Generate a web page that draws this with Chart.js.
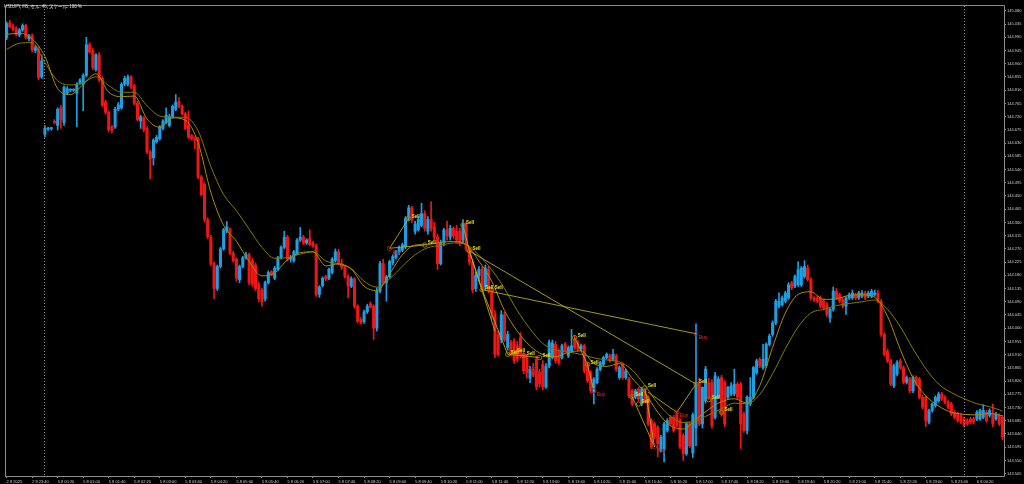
<!DOCTYPE html>
<html>
<head>
<meta charset="utf-8">
<script src="https://cdn.jsdelivr.net/npm/chart.js@4.4.1/dist/chart.umd.min.js"></script>
<style>
  html, body { margin: 0; padding: 0; background: #000; }
  #wrap { width: 1024px; height: 484px; }
</style>
</head>
<body>
<div id="wrap"><canvas id="usdjpyChart" width="1024" height="484"></canvas></div>
<script>
const opens = [
  144.989, 145.039, 145.028, 145.020, 144.998, 145.015, 145.030, 144.985, 144.995, 144.945,
  144.950, 144.855, 144.660, 144.678, 144.679, 144.704, 144.690, 144.750, 144.700, 144.800,
  144.810, 144.810, 144.800, 144.835, 144.830, 144.860, 144.965, 144.945, 144.880, 144.930,
  144.850, 144.770, 144.735, 144.685, 144.685, 144.745, 144.750, 144.830, 144.830, 144.855,
  144.825, 144.765, 144.705, 144.715, 144.680, 144.600, 144.580, 144.635, 144.645, 144.680,
  144.700, 144.690, 144.720, 144.745, 144.770, 144.755, 144.730, 144.690, 144.655, 144.645,
  144.645, 144.515, 144.490, 144.370, 144.310, 144.220, 144.135, 144.210, 144.270, 144.330,
  144.335, 144.255, 144.235, 144.165, 144.210, 144.240, 144.250, 144.230, 144.215, 144.150,
  144.130, 144.100, 144.155, 144.192, 144.170, 144.200, 144.240, 144.275, 144.310, 144.235,
  144.230, 144.255, 144.300, 144.310, 144.290, 144.305, 144.290, 144.280, 144.115, 144.145,
  144.175, 144.170, 144.190, 144.230, 144.260, 144.220, 144.207, 144.176, 144.143, 144.168,
  144.075, 144.030, 144.022, 144.056, 144.083, 144.075, 144.000, 144.126, 144.220, 144.155,
  144.175, 144.222, 144.240, 144.260, 144.265, 144.278, 144.374, 144.410, 144.330, 144.335,
  144.350, 144.390, 144.330, 144.370, 144.345, 144.310, 144.220, 144.290, 144.335, 144.310,
  144.340, 144.330, 144.330, 144.300, 144.355, 144.270, 144.225, 144.135, 144.180, 144.200,
  144.140, 144.200, 144.130, 144.050, 143.979, 143.962, 144.046, 143.934, 143.951, 143.956,
  143.940, 143.968, 143.911, 143.900, 143.830, 143.860, 143.894, 143.850, 143.877, 143.800,
  143.872, 143.900, 143.945, 143.922, 143.900, 143.945, 143.906, 143.923, 143.962, 143.950,
  143.930, 143.940, 143.877, 143.850, 143.782, 143.815, 143.860, 143.877, 143.900, 143.906,
  143.894, 143.906, 143.832, 143.877, 143.832, 143.827, 143.787, 143.765, 143.793, 143.742,
  143.787, 143.765, 143.686, 143.675, 143.663, 143.584, 143.590, 143.652, 143.697, 143.697,
  143.708, 143.686, 143.635, 143.573, 143.675, 143.575, 143.660, 143.815, 143.674, 143.753,
  143.815, 143.815, 143.697, 143.765, 143.832, 143.815, 143.765, 143.776, 143.776, 143.810,
  143.810, 143.708, 143.652, 143.742, 143.765, 143.849, 143.894, 143.866, 143.872, 143.945,
  143.979, 144.018, 144.075, 144.080, 144.092, 144.103, 144.154, 144.143, 144.148, 144.148,
  144.176, 144.205, 144.165, 144.103, 144.103, 144.103, 144.092, 144.080, 144.035, 144.064,
  144.126, 144.114, 144.097, 144.075, 144.103, 144.103, 144.114, 144.103, 144.109, 144.120,
  144.109, 144.109, 144.114, 144.120, 144.092, 143.979, 143.922, 143.889, 143.804, 143.844,
  143.889, 143.866, 143.816, 143.827, 143.787, 143.832, 143.827, 143.765, 143.765, 143.680,
  143.720, 143.737, 143.753, 143.776, 143.765, 143.748, 143.742, 143.714, 143.708, 143.703,
  143.691, 143.686, 143.691, 143.691, 143.691, 143.691, 143.697, 143.714, 143.703, 143.708,
  143.691, 143.703, 143.697
];
const highs = [
  145.042, 145.048, 145.034, 145.026, 145.020, 145.036, 145.035, 145.000, 145.002, 144.962,
  144.958, 144.930, 144.690, 144.684, 144.684, 144.710, 144.750, 144.758, 144.825, 144.822,
  144.815, 144.815, 144.836, 144.850, 144.866, 144.990, 144.972, 144.952, 144.935, 144.938,
  144.856, 144.776, 144.740, 144.690, 144.752, 144.768, 144.836, 144.858, 144.862, 144.860,
  144.830, 144.772, 144.725, 144.720, 144.686, 144.606, 144.645, 144.656, 144.690, 144.710,
  144.750, 144.728, 144.760, 144.795, 144.785, 144.760, 144.736, 144.740, 144.660, 144.652,
  144.650, 144.520, 144.495, 144.376, 144.316, 144.226, 144.215, 144.275, 144.340, 144.363,
  144.342, 144.262, 144.240, 144.215, 144.245, 144.258, 144.256, 144.238, 144.222, 144.156,
  144.136, 144.160, 144.195, 144.196, 144.210, 144.245, 144.280, 144.330, 144.316, 144.248,
  144.265, 144.305, 144.343, 144.316, 144.305, 144.335, 144.296, 144.286, 144.145, 144.175,
  144.180, 144.205, 144.240, 144.270, 144.268, 144.235, 144.212, 144.182, 144.175, 144.172,
  144.080, 144.036, 144.062, 144.082, 144.090, 144.080, 144.137, 144.228, 144.235, 144.180,
  144.232, 144.250, 144.265, 144.280, 144.290, 144.380, 144.418, 144.415, 144.365, 144.380,
  144.425, 144.400, 144.380, 144.430, 144.360, 144.320, 144.300, 144.340, 144.365, 144.350,
  144.345, 144.350, 144.340, 144.370, 144.360, 144.275, 144.232, 144.190, 144.210, 144.210,
  144.215, 144.210, 144.135, 144.060, 143.990, 144.060, 144.055, 143.990, 143.960, 143.965,
  143.955, 143.985, 143.920, 143.910, 143.870, 143.880, 143.905, 143.860, 143.890, 143.880,
  143.960, 143.960, 143.955, 143.930, 143.946, 143.952, 143.940, 143.996, 143.975, 143.958,
  143.946, 143.946, 143.884, 143.856, 143.832, 143.866, 143.888, 143.905, 143.916, 143.912,
  143.928, 143.912, 143.872, 143.883, 143.860, 143.833, 143.793, 143.793, 143.799, 143.799,
  143.793, 143.771, 143.692, 143.681, 143.669, 143.635, 143.680, 143.692, 143.703, 143.703,
  143.714, 143.692, 143.641, 143.681, 143.681, 143.712, 144.015, 143.830, 143.800, 143.870,
  143.830, 143.825, 143.850, 143.835, 143.840, 143.822, 143.802, 143.815, 143.861, 143.815,
  143.816, 143.715, 143.770, 143.832, 143.870, 143.895, 143.900, 143.945, 143.950, 143.980,
  144.025, 144.098, 144.120, 144.110, 144.126, 144.155, 144.160, 144.182, 144.227, 144.210,
  144.230, 144.215, 144.172, 144.108, 144.110, 144.110, 144.100, 144.088, 144.068, 144.140,
  144.135, 144.120, 144.104, 144.108, 144.120, 144.130, 144.120, 144.126, 144.128, 144.126,
  144.126, 144.132, 144.130, 144.128, 144.098, 143.985, 143.930, 143.895, 143.878, 143.890,
  143.895, 143.872, 143.838, 143.833, 143.838, 143.838, 143.833, 143.771, 143.771, 143.725,
  143.746, 143.770, 143.782, 143.782, 143.771, 143.754, 143.748, 143.720, 143.714, 143.709,
  143.697, 143.692, 143.697, 143.697, 143.720, 143.725, 143.740, 143.720, 143.726, 143.742,
  143.714, 143.709, 143.703
];
const lows = [
  144.982, 145.022, 145.012, 144.995, 144.992, 145.010, 144.984, 144.978, 144.940, 144.938,
  144.845, 144.850, 144.650, 144.672, 144.674, 144.696, 144.675, 144.680, 144.690, 144.795,
  144.805, 144.806, 144.685, 144.830, 144.740, 144.855, 144.935, 144.880, 144.875, 144.838,
  144.754, 144.728, 144.668, 144.665, 144.680, 144.740, 144.745, 144.825, 144.825, 144.815,
  144.760, 144.705, 144.680, 144.668, 144.594, 144.508, 144.555, 144.630, 144.640, 144.675,
  144.695, 144.685, 144.715, 144.740, 144.750, 144.725, 144.675, 144.645, 144.640, 144.610,
  144.508, 144.450, 144.362, 144.305, 144.212, 144.100, 144.128, 144.205, 144.265, 144.325,
  144.250, 144.225, 144.160, 144.155, 144.205, 144.235, 144.148, 144.142, 144.128, 144.090,
  144.075, 144.092, 144.150, 144.178, 144.165, 144.195, 144.235, 144.270, 144.228, 144.225,
  144.225, 144.250, 144.295, 144.285, 144.285, 144.280, 144.275, 144.108, 144.105, 144.140,
  144.162, 144.165, 144.185, 144.225, 144.215, 144.200, 144.170, 144.103, 144.138, 144.068,
  144.018, 144.014, 144.016, 144.050, 144.068, 143.962, 143.990, 144.120, 144.150, 144.092,
  144.170, 144.215, 144.235, 144.250, 144.260, 144.270, 144.365, 144.360, 144.320, 144.330,
  144.345, 144.330, 144.320, 144.330, 144.300, 144.200, 144.215, 144.280, 144.300, 144.300,
  144.305, 144.290, 144.280, 144.290, 144.262, 144.215, 144.120, 144.125, 144.160, 144.130,
  144.130, 144.120, 144.030, 143.900, 143.905, 143.950, 143.955, 143.925, 143.905, 143.880,
  143.885, 143.900, 143.845, 143.830, 143.815, 143.835, 143.790, 143.800, 143.790, 143.795,
  143.865, 143.895, 143.880, 143.875, 143.895, 143.918, 143.900, 143.918, 143.928, 143.922,
  143.925, 143.848, 143.815, 143.780, 143.742, 143.810, 143.855, 143.872, 143.895, 143.884,
  143.889, 143.853, 143.826, 143.826, 143.826, 143.764, 143.736, 143.760, 143.753, 143.736,
  143.747, 143.668, 143.590, 143.624, 143.562, 143.578, 143.545, 143.646, 143.669, 143.646,
  143.663, 143.590, 143.550, 143.567, 143.594, 143.560, 143.600, 143.668, 143.660, 143.745,
  143.757, 143.660, 143.690, 143.760, 143.700, 143.665, 143.758, 143.770, 143.770, 143.757,
  143.590, 143.645, 143.640, 143.736, 143.760, 143.843, 143.866, 143.860, 143.866, 143.940,
  143.972, 144.012, 144.068, 144.075, 144.086, 144.098, 144.131, 144.138, 144.142, 144.142,
  144.170, 144.160, 144.095, 144.090, 144.086, 144.068, 144.062, 144.040, 144.020, 144.058,
  144.097, 144.086, 144.069, 144.047, 144.098, 144.098, 144.097, 144.098, 144.104, 144.097,
  144.104, 144.104, 144.109, 144.086, 143.972, 143.905, 143.883, 143.804, 143.798, 143.838,
  143.860, 143.810, 143.810, 143.781, 143.781, 143.804, 143.759, 143.725, 143.665, 143.674,
  143.714, 143.731, 143.748, 143.753, 143.742, 143.725, 143.702, 143.691, 143.680, 143.674,
  143.663, 143.669, 143.674, 143.674, 143.685, 143.686, 143.692, 143.680, 143.697, 143.665,
  143.686, 143.669, 143.620
];
const closes = [
  145.037, 145.026, 145.018, 145.000, 145.015, 145.030, 144.990, 144.995, 144.948, 144.955,
  144.853, 144.910, 144.680, 144.679, 144.680, 144.700, 144.745, 144.710, 144.820, 144.815,
  144.812, 144.812, 144.830, 144.845, 144.860, 144.965, 144.940, 144.887, 144.930, 144.845,
  144.760, 144.735, 144.675, 144.675, 144.745, 144.760, 144.830, 144.850, 144.855, 144.820,
  144.765, 144.710, 144.720, 144.675, 144.600, 144.575, 144.640, 144.650, 144.685, 144.705,
  144.725, 144.720, 144.755, 144.770, 144.755, 144.730, 144.680, 144.650, 144.645, 144.640,
  144.515, 144.455, 144.370, 144.312, 144.220, 144.135, 144.210, 144.270, 144.335, 144.345,
  144.255, 144.230, 144.170, 144.210, 144.240, 144.250, 144.155, 144.150, 144.135, 144.100,
  144.090, 144.155, 144.190, 144.182, 144.205, 144.240, 144.275, 144.310, 144.235, 144.242,
  144.260, 144.300, 144.310, 144.290, 144.300, 144.285, 144.280, 144.115, 144.140, 144.170,
  144.168, 144.200, 144.235, 144.260, 144.220, 144.207, 144.176, 144.143, 144.168, 144.075,
  144.024, 144.020, 144.056, 144.075, 144.072, 144.000, 144.126, 144.220, 144.155, 144.175,
  144.227, 144.244, 144.261, 144.272, 144.284, 144.374, 144.410, 144.370, 144.355, 144.370,
  144.390, 144.340, 144.370, 144.340, 144.310, 144.220, 144.290, 144.335, 144.315, 144.340,
  144.315, 144.300, 144.290, 144.357, 144.270, 144.225, 144.130, 144.180, 144.200, 144.140,
  144.205, 144.130, 144.050, 143.911, 143.911, 144.046, 143.960, 143.979, 143.911, 143.889,
  143.894, 143.911, 143.855, 143.849, 143.860, 143.840, 143.800, 143.810, 143.800, 143.870,
  143.951, 143.950, 143.889, 143.883, 143.940, 143.923, 143.934, 143.940, 143.934, 143.928,
  143.940, 143.855, 143.821, 143.787, 143.827, 143.860, 143.883, 143.900, 143.911, 143.890,
  143.911, 143.860, 143.866, 143.832, 143.855, 143.770, 143.742, 143.787, 143.759, 143.793,
  143.753, 143.675, 143.596, 143.630, 143.607, 143.629, 143.674, 143.686, 143.675, 143.652,
  143.669, 143.596, 143.573, 143.675, 143.600, 143.705, 143.805, 143.674, 143.799, 143.861,
  143.765, 143.669, 143.838, 143.827, 143.708, 143.674, 143.799, 143.804, 143.810, 143.765,
  143.674, 143.652, 143.765, 143.765, 143.866, 143.889, 143.872, 143.894, 143.945, 143.973,
  144.018, 144.092, 144.092, 144.103, 144.120, 144.148, 144.137, 144.176, 144.199, 144.205,
  144.210, 144.165, 144.103, 144.097, 144.092, 144.075, 144.069, 144.047, 144.064, 144.126,
  144.103, 144.092, 144.075, 144.103, 144.114, 144.120, 144.103, 144.120, 144.120, 144.103,
  144.120, 144.126, 144.120, 144.092, 143.979, 143.911, 143.889, 143.810, 143.872, 143.883,
  143.866, 143.816, 143.832, 143.787, 143.832, 143.810, 143.765, 143.731, 143.686, 143.720,
  143.742, 143.765, 143.776, 143.759, 143.748, 143.731, 143.708, 143.697, 143.686, 143.680,
  143.669, 143.675, 143.680, 143.680, 143.714, 143.720, 143.720, 143.686, 143.720, 143.674,
  143.708, 143.674, 143.629
];

// moyennes mobiles relevées tous les 4 bougies
const maIdx = [
  0, 4, 8, 12, 16, 20, 24, 28, 32, 36, 40, 44, 48, 52, 56, 60, 64, 68, 72, 76,
  80, 84, 88, 92, 96, 100, 104, 108, 112, 116, 120, 124, 128, 132, 136, 140, 144, 148, 152, 156,
  160, 164, 168, 172, 176, 180, 184, 188, 192, 196, 200, 204, 208, 212, 216, 220, 224, 228, 232, 236,
  240, 244, 248, 252, 256, 260, 264, 268, 272, 276, 280, 284, 288, 292, 296, 300, 304, 308, 312
];
const maFast = [
  145.000, 145.004, 144.985, 144.925, 144.815, 144.795, 144.830, 144.866, 144.803, 144.788,
  144.790, 144.712, 144.684, 144.716, 144.708, 144.632, 144.462, 144.350, 144.296, 144.227,
  144.178, 144.188, 144.233, 144.257, 144.260, 144.212, 144.219, 144.201, 144.143, 144.128,
  144.185, 144.250, 144.283, 144.285, 144.292, 144.295, 144.285, 144.228, 144.160, 144.060,
  143.990, 143.940, 143.910, 143.903, 143.918, 143.923, 143.880, 143.870, 143.880, 143.830,
  143.780, 143.714, 143.668, 143.657, 143.690, 143.724, 143.750, 143.760, 143.745, 143.805,
  143.935, 144.052, 144.115, 144.124, 144.098, 144.100, 144.112, 144.114, 144.105, 144.040,
  143.928, 143.830, 143.770, 143.735, 143.714, 143.707, 143.705, 143.710, 143.702
];
const maSlow = [
  144.949, 144.970, 144.972, 144.904, 144.842, 144.828, 144.836, 144.856, 144.826, 144.803,
  144.803, 144.757, 144.722, 144.718, 144.718, 144.672, 144.550, 144.455, 144.400, 144.337,
  144.275, 144.238, 144.240, 144.252, 144.260, 144.229, 144.218, 144.203, 144.160, 144.140,
  144.168, 144.211, 144.250, 144.274, 144.282, 144.290, 144.285, 144.248, 144.199, 144.135,
  144.060, 143.998, 143.948, 143.926, 143.919, 143.911, 143.899, 143.892, 143.885, 143.858,
  143.805, 143.745, 143.700, 143.679, 143.685, 143.705, 143.726, 143.745, 143.743, 143.775,
  143.845, 143.930, 144.004, 144.052, 144.064, 144.077, 144.084, 144.090, 144.096, 144.064,
  144.005, 143.930, 143.862, 143.810, 143.781, 143.760, 143.743, 143.733, 143.718
];

// lignes des ordres (entrée -> sortie)
const tradeFromIdx = [120, 120, 143, 145, 145, 149, 145, 149, 157, 162, 178, 182, 196, 200, 201, 210];
const tradeFromPx = [144.272, 144.272, 144.351, 144.263, 144.263, 144.131, 144.263, 144.131, 143.911, 143.906, 143.968, 143.877, 143.767, 143.797, 143.782, 143.714];
const tradeToIdx = [126, 131, 145, 149, 153, 216, 216, 157, 162, 167, 182, 184, 203, 203, 210, 216];
const tradeToPx = [144.374, 144.283, 144.263, 144.131, 143.990, 143.981, 143.810, 143.911, 143.906, 143.900, 143.877, 143.787, 143.596, 143.596, 143.714, 143.810];

// marqueurs Buy / Sell
const markIdx = [120, 126, 131, 143, 145, 149, 152, 157, 159, 162, 165, 167, 178, 182, 184, 196, 198, 200, 203, 210, 216, 216, 220, 224];
const markPx = [144.272, 144.374, 144.283, 144.351, 144.263, 144.131, 144.131, 143.911, 143.917, 143.906, 143.860, 143.900, 143.968, 143.877, 143.787, 143.767, 143.742, 143.797, 143.596, 143.714, 143.981, 143.810, 143.757, 143.714];
const markText = ['Buy', 'Sell', 'Sell', 'Sell', 'Sell', 'Sell', 'Sell', 'Sell', 'Sell', 'Sell', 'Buy', 'Sell', 'Sell', 'Sell', 'Buy', 'Sell', 'Sell', 'Sell', 'Buy', 'Buy', 'Buy', 'Sell', 'Sell', 'Sell'];

// axe du temps
const xTickIdx = [0, 8, 16, 24, 32, 40, 48, 56, 64, 72, 80, 88, 96, 104, 112, 120, 128, 136, 144, 152,
  160, 168, 176, 184, 192, 200, 208, 216, 224, 232, 240, 248, 256, 264, 272, 280, 288, 296, 304];
const xTickText = ['2 8 2025', '2 8 23:40', '5 8 00:20', '5 8 01:00', '5 8 01:40', '5 8 02:20', '5 8 03:00',
  '5 8 03:40', '5 8 04:20', '5 8 05:00', '5 8 05:40', '5 8 06:20', '5 8 07:00', '5 8 07:40', '5 8 08:20',
  '5 8 09:00', '5 8 09:40', '5 8 10:20', '5 8 11:00', '5 8 11:40', '5 8 12:20', '5 8 13:00', '5 8 13:40',
  '5 8 14:20', '5 8 15:00', '5 8 15:40', '5 8 16:20', '5 8 17:00', '5 8 17:40', '5 8 18:20', '5 8 19:00',
  '5 8 19:40', '5 8 20:20', '5 8 21:00', '5 8 21:40', '5 8 22:20', '5 8 23:00', '5 8 23:40', '6 8 00:20'];
const separatorIdx = [12, 300];

// axe des prix
const yTicks = [143.505, 143.550, 143.595, 143.640, 143.685, 143.730, 143.775, 143.820, 143.865, 143.910,
  143.955, 144.000, 144.045, 144.090, 144.135, 144.180, 144.225, 144.270, 144.315, 144.360, 144.405,
  144.450, 144.495, 144.540, 144.585, 144.630, 144.675, 144.720, 144.765, 144.810, 144.855, 144.900,
  144.945, 144.990, 145.035, 145.080];

const titleText = 'USDJPY, M5, セル: 45, スケール: 100 %';

const upColor = '#1e9fe4';
const downColor = '#f01616';
const axisColor = '#8c8c8c';
const textColor = '#cfcfcf';

const candleColors = closes.map((c, i) => (c >= opens[i] ? upColor : downColor));

const mt4Plugin = {
  id: 'mt4Frame',
  beforeDraw(chart) {
    const ctx = chart.ctx;
    ctx.save();
    ctx.fillStyle = '#000';
    ctx.fillRect(0, 0, chart.width, chart.height);
    ctx.restore();
  },
  afterDraw(chart) {
    const ctx = chart.ctx;
    const a = chart.chartArea;
    const xs = chart.scales.x;
    const ys = chart.scales.y;
    ctx.save();
    // cadre
    ctx.strokeStyle = axisColor;
    ctx.lineWidth = 1;
    ctx.beginPath();
    ctx.moveTo(a.left + 0.5, a.bottom + 0.5);
    ctx.lineTo(a.left + 0.5, a.top + 0.5);
    ctx.lineTo(a.right + 0.5, a.top + 0.5);
    ctx.lineTo(a.right + 0.5, a.bottom + 0.5);
    ctx.lineTo(a.left + 0.5, a.bottom + 0.5);
    ctx.stroke();
    // séparateurs de jours
    ctx.setLineDash([1, 2]);
    separatorIdx.forEach((idx) => {
      const px = Math.floor(xs.getPixelForValue(idx)) + 0.5;
      ctx.beginPath();
      ctx.moveTo(px, a.top + 1);
      ctx.lineTo(px, a.bottom);
      ctx.stroke();
    });
    ctx.setLineDash([]);
    // textes Buy / Sell
    ctx.font = 'bold 4.5px "Liberation Sans"';
    ctx.textBaseline = 'middle';
    ctx.textAlign = 'left';
    markIdx.forEach((idx, k) => {
      const px = xs.getPixelForValue(idx);
      const py = ys.getPixelForValue(markPx[k]);
      if (markText[k] === 'Sell') {
        ctx.fillStyle = '#e4e41c';
        ctx.fillText('Sell', px + 3, py - 2);
      } else {
        ctx.fillStyle = '#c42020';
        ctx.fillText('Buy', px + 3, py + 4);
      }
    });
    // titre
    ctx.font = '4.5px "Noto Sans CJK JP", "Liberation Sans"';
    ctx.fillStyle = '#e6e6e6';
    ctx.textBaseline = 'middle';
    ctx.fillText(titleText, 4, 6);
    ctx.restore();
  }
};

const ctx = document.getElementById('usdjpyChart').getContext('2d');
new Chart(ctx, {
  type: 'bar',
  data: {
    datasets: [
      {
        type: 'line',
        label: 'marks',
        data: markIdx.map((x, k) => ({ x: x, y: markPx[k] })),
        showLine: false,
        pointRadius: 2.2,
        pointStyle: 'circle',
        pointBackgroundColor: 'rgba(0,0,0,0)',
        pointBorderColor: markText.map((t) => (t === 'Buy' ? '#9a1c1c' : '#8c8400')),
        pointBorderWidth: 1,
        order: 0
      },
      ...tradeFromIdx.map((fromIdx, k) => ({
        type: 'line',
        label: 'trade' + k,
        data: [{ x: fromIdx, y: tradeFromPx[k] }, { x: tradeToIdx[k], y: tradeToPx[k] }],
        borderColor: 'rgba(190, 180, 36, 0.85)',
        borderWidth: 1,
        pointRadius: 0,
        order: 1
      })),
      {
        type: 'line',
        label: 'MA fast',
        data: maIdx.map((x, k) => ({ x: x, y: maFast[k] })),
        borderColor: '#a98c00',
        borderWidth: 1,
        pointRadius: 0,
        cubicInterpolationMode: 'monotone',
        order: 2
      },
      {
        type: 'line',
        label: 'MA slow',
        data: maIdx.map((x, k) => ({ x: x, y: maSlow[k] })),
        borderColor: '#817a00',
        borderWidth: 1,
        pointRadius: 0,
        cubicInterpolationMode: 'monotone',
        order: 2
      },
      {
        label: 'bodies',
        data: opens.map((o, i) => ({ x: i, y: [o, closes[i]] })),
        backgroundColor: candleColors,
        barThickness: 2.4,
        minBarLength: 1,
        grouped: false,
        order: 3
      },
      {
        label: 'wicks',
        data: lows.map((l, i) => ({ x: i, y: [l, highs[i]] })),
        backgroundColor: candleColors,
        barThickness: 1,
        grouped: false,
        order: 4
      }
    ]
  },
  options: {
    responsive: false,
    animation: false,
    devicePixelRatio: 1,
    events: [],
    layout: { padding: { left: 2, top: 2, right: 0, bottom: 0 } },
    plugins: {
      legend: { display: false },
      tooltip: { enabled: false },
      title: { display: false }
    },
    scales: {
      x: {
        type: 'linear',
        min: -0.5,
        max: 312.5,
        offset: false,
        border: { display: false },
        grid: { drawOnChartArea: false, drawTicks: true, tickLength: 2, color: axisColor, offset: false },
        ticks: {
          autoSkip: false,
          maxRotation: 0,
          minRotation: 0,
          align: 'start',
          padding: 1,
          color: textColor,
          font: { size: 4, family: 'Liberation Sans' },
          callback: (value) => {
            const k = xTickIdx.indexOf(value);
            return k >= 0 ? xTickText[k] : '';
          }
        },
        afterBuildTicks: (scale) => {
          scale.ticks = xTickIdx.map((v) => ({ value: v }));
        },
        afterFit: (scale) => {
          scale.height = 8;
        }
      },
      y: {
        type: 'linear',
        position: 'right',
        min: 143.497,
        max: 145.1,
        border: { display: false },
        grid: { drawOnChartArea: false, drawTicks: true, tickLength: 2, color: axisColor },
        ticks: {
          padding: 1,
          color: textColor,
          font: { size: 4, family: 'Liberation Sans' },
          callback: (value) => value.toFixed(3)
        },
        afterBuildTicks: (scale) => {
          scale.ticks = yTicks.map((v) => ({ value: v }));
        },
        afterFit: (scale) => {
          scale.width = 20;
        }
      }
    }
  },
  plugins: [mt4Plugin]
});
</script>
</body>
</html>
